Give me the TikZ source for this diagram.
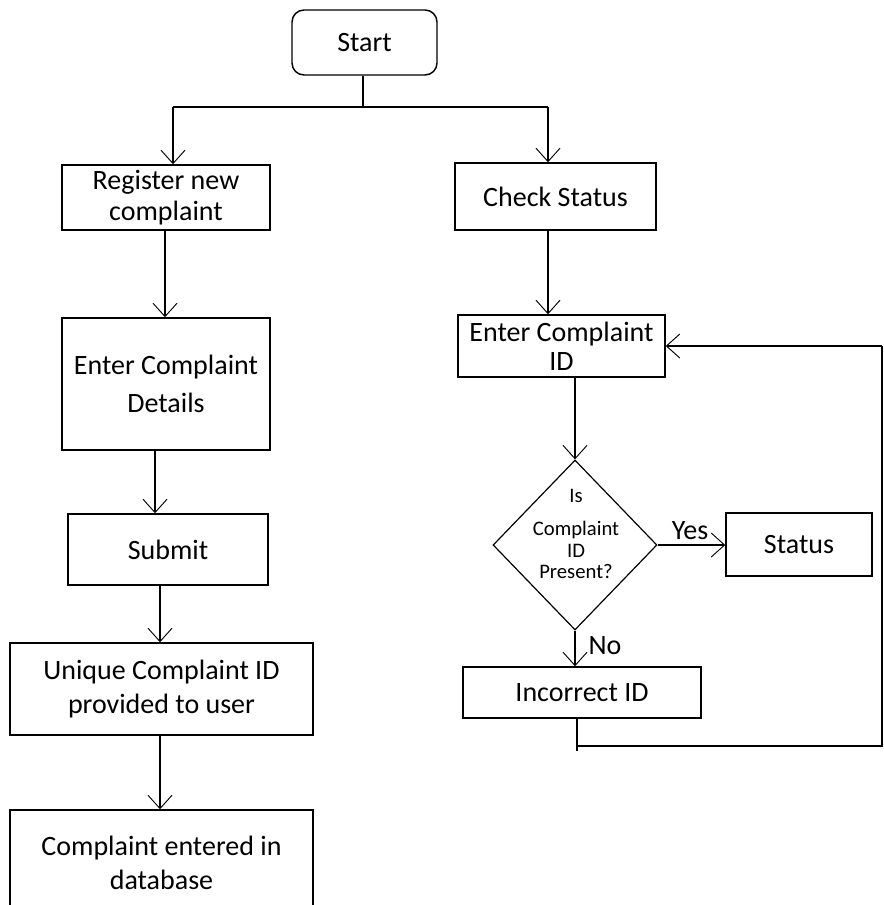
\documentclass[tikz,border=0pt]{standalone}
\usepackage{fontspec}
\setmainfont{Carlito}
\usetikzlibrary{shapes.geometric,arrows.meta}
\begin{document}
\begin{tikzpicture}[x=0.75pt,y=-0.75pt,
  box/.style={draw,line width=1.1pt,align=center,inner sep=0pt,font=\fontsize{21}{25}\selectfont},
  lbl/.style={inner sep=0pt,font=\fontsize{21}{25}\selectfont},
  dtxt/.style={inner sep=0pt,align=center,font=\fontsize{15.5}{17}\selectfont},
  ln/.style={line width=1pt},
  arr/.style={line width=1pt,-{Straight Barb[length=10pt,width=18pt,line width=0.7pt]}}]
\useasboundingbox (0,0) rectangle (883,905);

% nodes
\node[box,rounded corners=9pt,minimum width=108.75pt,minimum height=48.75pt] (start) at (364.5,42.5) {Start};
\node[box,minimum width=156pt,minimum height=48.75pt] (reg) at (166,197.5) {Register new\\[-2pt]complaint};
\node[box,minimum width=150.75pt,minimum height=50.25pt] (chk) at (555.5,196.5) {Check Status};
\node[box,minimum width=156pt,minimum height=99pt] (ecd) at (166,384) {Enter Complaint\\[3pt]Details};
\node[box,minimum width=150pt,minimum height=53.25pt] (sub) at (168,549.5) {Submit};
\node[box,minimum width=227.25pt,minimum height=69pt] (uid) at (161.5,689) {Unique Complaint ID\\[1pt]provided to user};
\node[box,minimum width=227.25pt,minimum height=79.5pt] (db) at (161.5,863) {Complaint entered in\\database};
\node[box,minimum width=155.25pt,minimum height=46.5pt] (eid) at (561.5,346) {Enter Complaint\\[-3pt]ID};
\node[draw,diamond,line width=0.9pt,inner sep=0pt,minimum width=123pt,minimum height=127.5pt] (dia) at (575,545) {};
\node[dtxt] (dq) at (576,534) {Is\\[8pt]Complaint\\[-1pt]ID\\[-1pt]Present?};
\node[box,minimum width=109.5pt,minimum height=47.25pt] (st) at (799,544.5) {Status};
\node[box,minimum width=178.5pt,minimum height=38.25pt] (inc) at (582,692.5) {Incorrect ID};
\node[lbl] (yes) at (690,531) {Yes};
\node[lbl] (no) at (605,646) {No};

% junction coordinates
\coordinate (jn) at (363,107);
\coordinate (jL) at (173,107);
\coordinate (jR) at (548,107);
\coordinate (lb) at (577,751);
\coordinate (lbh) at (577,746);
\coordinate (rb) at (882,746);
\coordinate (rt) at (882,346);

% connectors
\draw[ln] (start.south -| jn) -- (jn);
\draw[ln] (jL) -- (jR);
\draw[arr] (jL) -- (jL |- reg.north);
\draw[arr] (jR) -- (jR |- chk.north);
\draw[arr] (165,0 |- reg.south) -- (165,0 |- ecd.north);
\draw[arr] (155,0 |- ecd.south) -- (155,0 |- sub.north);
\draw[arr] (160,0 |- sub.south) -- (160,0 |- uid.north);
\draw[arr] (160,0 |- uid.south) -- (160,0 |- db.north);
\draw[arr] (548,0 |- chk.south) -- (548,0 |- eid.north);
\draw[arr] (575,0 |- eid.south) -- (dia.north);
\draw[arr] (dia.east) -- (st.west |- dia.east);
\draw[arr] (dia.south) -- (575,0 |- inc.north);
\draw[ln] (lb |- inc.south) -- (lb);
\draw[ln] (lbh) -- (rb) -- (rt);
\draw[arr] (rt) -- (eid.east);
\end{tikzpicture}
\end{document}
